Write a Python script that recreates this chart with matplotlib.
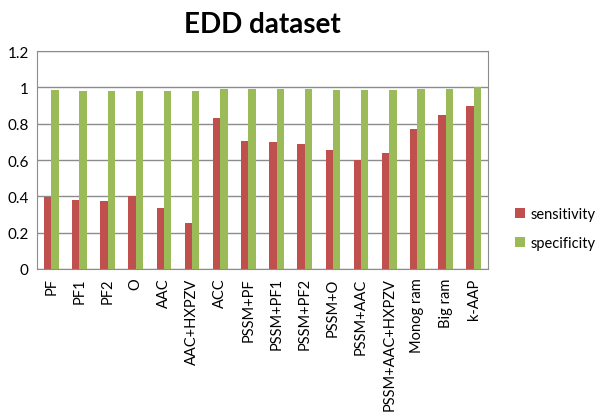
import numpy as np
import matplotlib
matplotlib.use('Agg')
import matplotlib.pyplot as plt

plt.rcParams['font.family'] = ['Lato', 'DejaVu Sans']

# Dados
metodos = ["PF", "PF1", "PF2", "O", "AAC", "AAC+HXPZV", "ACC", "PSSM+PF",
           "PSSM+PF1", "PSSM+PF2", "PSSM+O", "PSSM+AAC", "PSSM+AAC+HXPZV",
           "Monog ram", "Big ram", "k-AAP"]
sensitivity = [0.395, 0.38, 0.372, 0.403, 0.336, 0.251, 0.829, 0.706,
               0.697, 0.69, 0.655, 0.60, 0.64, 0.77, 0.849, 0.90]
specificity = [0.987, 0.98, 0.98, 0.98, 0.98, 0.98, 0.992, 0.992,
               0.992, 0.992, 0.987, 0.987, 0.987, 0.992, 0.992, 1.0]

x = np.arange(len(metodos))
w = 0.26

fig = plt.figure(figsize=(6, 4.14), dpi=100)
ax = fig.add_axes([0.062, 0.348, 0.751, 0.526])

ax.bar(x - w/2, sensitivity, w, color='#C0504D', label='sensitivity', zorder=3)
ax.bar(x + w/2, specificity, w, color='#9BBB59', label='specificity', zorder=3)

ax.set_xlim(-0.5, len(metodos) - 0.5)
ax.set_ylim(0, 1.2)
ax.set_yticks([0, 0.2, 0.4, 0.6, 0.8, 1.0, 1.2])
ax.set_yticklabels(["0", "0.2", "0.4", "0.6", "0.8", "1", "1.2"], fontsize=11)
ax.set_xticks(x)
ax.set_xticklabels(metodos, rotation=90, fontsize=10.5)
ax.tick_params(axis='both', length=0, pad=6)
ax.yaxis.grid(True, color='#8C8C8C', linewidth=1, zorder=0)
for s in ax.spines.values():
    s.set_color('#8C8C8C')

ax.set_title("EDD dataset", fontsize=20, fontweight='bold', pad=14)

fig.legend(loc='center left', bbox_to_anchor=(0.858, 0.445), frameon=False,
           fontsize=10.5, handlelength=0.7, handleheight=0.7, handletextpad=0.4,
           labelspacing=1.0, borderaxespad=0, borderpad=0)

plt.savefig("out.png")
